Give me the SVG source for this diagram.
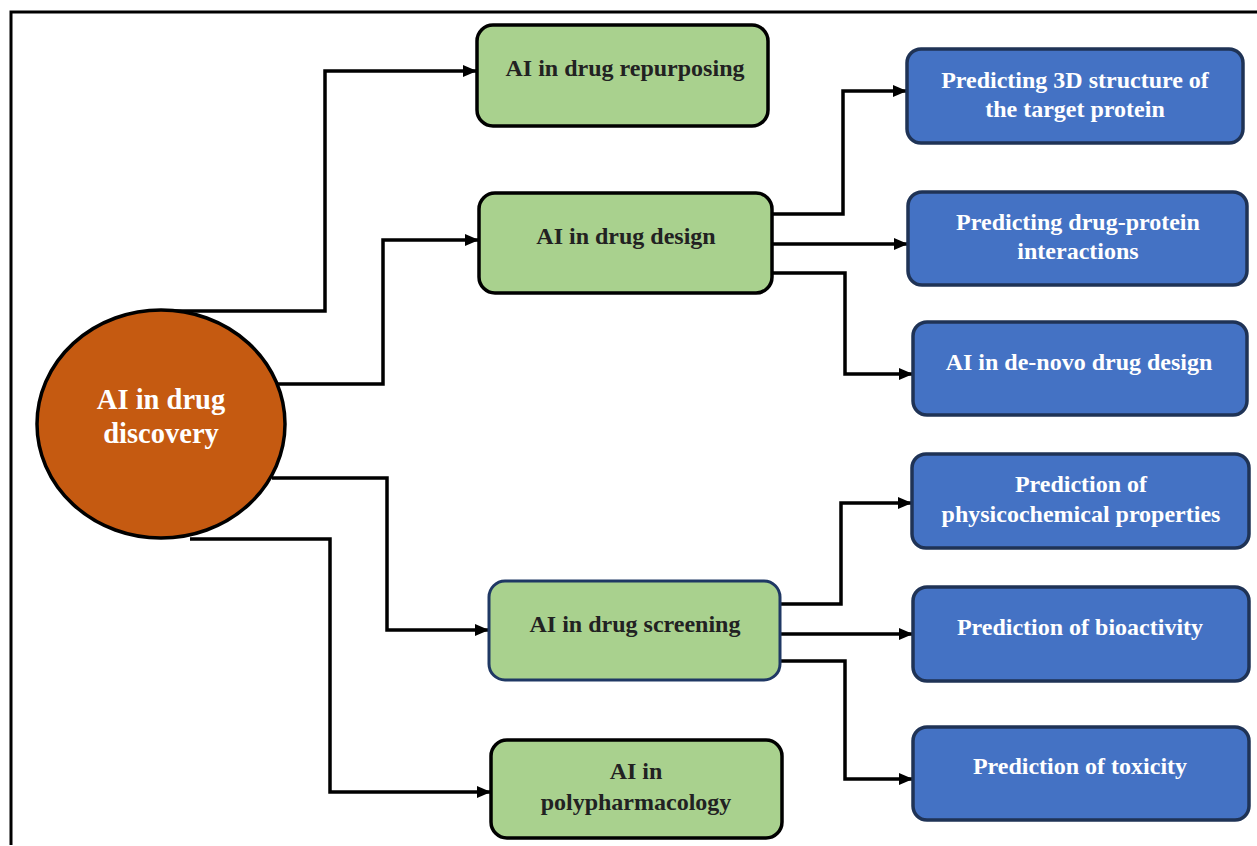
<svg xmlns="http://www.w3.org/2000/svg" width="1257" height="846" viewBox="0 0 1257 846">
<defs>
<marker id="arr" viewBox="0 0 14 12" refX="14" refY="6" markerWidth="14" markerHeight="12" markerUnits="userSpaceOnUse" orient="auto">
<path d="M0,0 L14,6 L0,12 Z" fill="#000"/>
</marker>
<style>
.conn{fill:none;stroke:#000;stroke-width:3.5;stroke-linejoin:miter}
.green{fill:#A9D18E;stroke:#000;stroke-width:3.5}
.green2{fill:#A9D18E;stroke:#1F3864;stroke-width:3}
.blue{fill:#4472C4;stroke:#1F3356;stroke-width:3.5}
text{font-family:'Liberation Serif','Times New Roman','DejaVu Serif',serif;font-weight:bold;text-anchor:middle}
.tg{font-size:24px;fill:#222}
.tb{font-size:24px;fill:#fff}
.tc{font-size:28.5px;fill:#fff}
</style>
</defs>
<rect width="1257" height="846" fill="#fff"/>
<path d="M11,845 L11,12 L1257,12" fill="none" stroke="#000" stroke-width="3"/>

<g id="connectors">
<path class="conn" d="M175,311 L325,311 L325,71 L477,71" marker-end="url(#arr)"/>
<path class="conn" d="M277,384 L383,384 L383,240 L479,240" marker-end="url(#arr)"/>
<path class="conn" d="M272,478 L387,478 L387,630 L489,630" marker-end="url(#arr)"/>
<path class="conn" d="M190,539 L330,539 L330,792 L491,792" marker-end="url(#arr)"/>
<path class="conn" d="M772,214 L843,214 L843,91 L907,91" marker-end="url(#arr)"/>
<path class="conn" d="M772,244 L908,244" marker-end="url(#arr)"/>
<path class="conn" d="M772,273 L845,273 L845,374 L913,374" marker-end="url(#arr)"/>
<path class="conn" d="M780,604 L841,604 L841,503 L912,503" marker-end="url(#arr)"/>
<path class="conn" d="M780,634 L913,634" marker-end="url(#arr)"/>
<path class="conn" d="M780,661 L845,661 L845,779 L913,779" marker-end="url(#arr)"/>
</g>

<g id="root">
<ellipse cx="161" cy="424" rx="124" ry="114" fill="#C55A11" stroke="#000" stroke-width="3.5"/>
<text class="tc" x="161" y="409">AI in drug</text>
<text class="tc" x="161" y="443">discovery</text>
</g>

<g id="repurposing">
<rect class="green" x="477" y="25" width="291" height="101" rx="16"/>
<text class="tg" x="625" y="76">AI in drug repurposing</text>
</g>
<g id="design">
<rect class="green" x="479" y="193" width="293" height="100" rx="16"/>
<text class="tg" x="626" y="244">AI in drug design</text>
</g>
<g id="screening">
<rect class="green2" x="489" y="581" width="291" height="99" rx="16"/>
<text class="tg" x="635" y="632">AI in drug screening</text>
</g>
<g id="polypharmacology">
<rect class="green" x="491" y="740" width="291" height="98" rx="16"/>
<text class="tg" x="636" y="779">AI in</text>
<text class="tg" x="636" y="810">polypharmacology</text>
</g>

<g id="structure3d">
<rect class="blue" x="907" y="49" width="336" height="94" rx="14"/>
<text class="tb" x="1075" y="88">Predicting 3D structure of</text>
<text class="tb" x="1075" y="117">the target protein</text>
</g>
<g id="dpi">
<rect class="blue" x="908" y="192" width="339" height="93" rx="14"/>
<text class="tb" x="1078" y="230">Predicting drug-protein</text>
<text class="tb" x="1078" y="259">interactions</text>
</g>
<g id="denovo">
<rect class="blue" x="913" y="322" width="334" height="93" rx="14"/>
<text class="tb" x="1079" y="370">AI in de-novo drug design</text>
</g>
<g id="physchem">
<rect class="blue" x="912" y="454" width="337" height="94" rx="14"/>
<text class="tb" x="1081" y="492">Prediction of</text>
<text class="tb" x="1081" y="522">physicochemical properties</text>
</g>
<g id="bioactivity">
<rect class="blue" x="913" y="587" width="336" height="94" rx="14"/>
<text class="tb" x="1080" y="635">Prediction of bioactivity</text>
</g>
<g id="toxicity">
<rect class="blue" x="913" y="727" width="336" height="93" rx="14"/>
<text class="tb" x="1080" y="774">Prediction of toxicity</text>
</g>
</svg>
